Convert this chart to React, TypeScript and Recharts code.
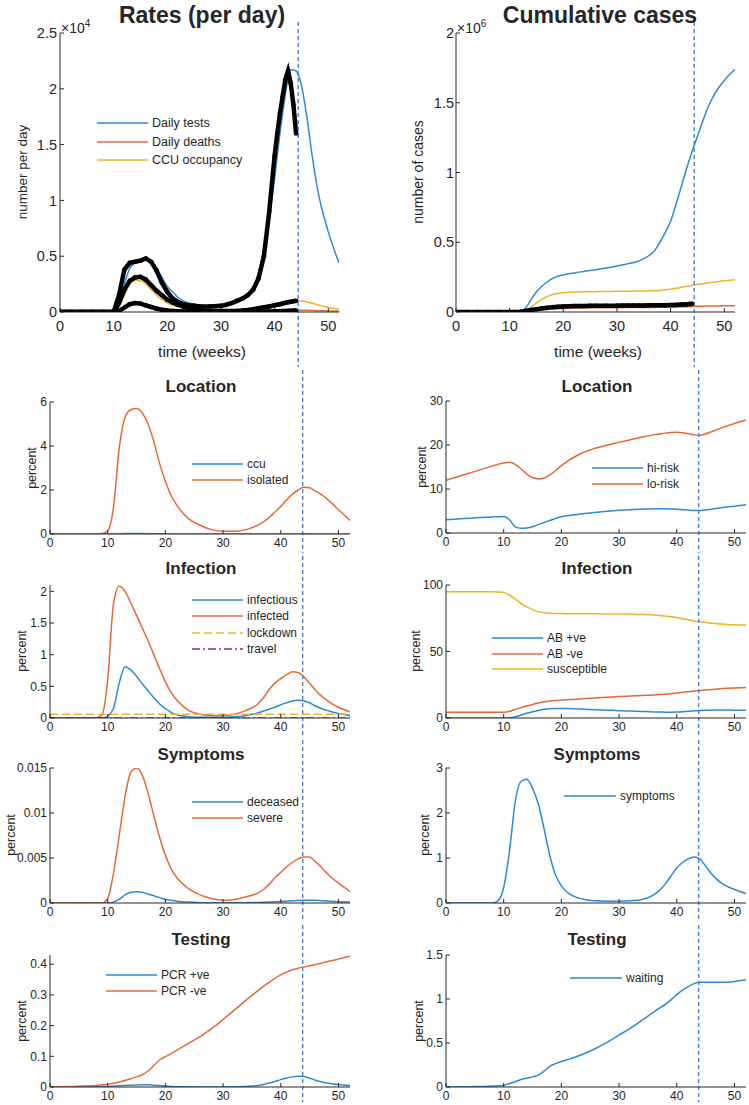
import React from "react";
import { Line, LineChart, ReferenceLine, XAxis, YAxis } from "recharts";

const FONT = '"Liberation Sans", Arial, Helvetica, sans-serif';
const INK = "#262626";
const BLUE = "#2b8ad6";
const RED = "#e3693a";
const YELLOW = "#eeb22a";
const PURPLE = "#7e2f8e";
const MARK = "#4a7fdc";

// model time axis (weeks)
const weeks = [0, 2, 4, 6, 8, 9, 10, 11, 12, 13, 14, 15, 16, 17, 18, 19, 20, 21, 22, 24, 26, 28, 30, 32, 34, 36, 37, 38, 39, 40, 41, 42, 43, 44, 45, 46, 47, 48, 50, 52];

// Rates (per day)
const dailyTests = [0, 0, 0, 0, 0, 0, 100, 800, 2500, 3900, 4400, 4650, 4700, 4500, 3900, 3100, 2300, 1800, 1300, 800, 600, 550, 600, 800, 1200, 2200, 3500, 5500, 8500, 12000, 16000, 19500, 21700, 21600, 20300, 17500, 14000, 11000, 7200, 4400];
const dailyDeaths = [0, 0, 0, 0, 0, 0, 0, 80, 300, 600, 750, 750, 650, 500, 380, 280, 200, 150, 100, 60, 40, 25, 20, 25, 30, 40, 50, 60, 75, 100, 115, 130, 145, 160, 160, 150, 140, 120, 95, 70];
const ccuOccupancy = [0, 0, 0, 0, 0, 0, 50, 500, 1500, 2500, 2850, 2800, 2500, 2000, 1500, 1100, 800, 600, 450, 250, 150, 100, 100, 120, 180, 300, 370, 450, 550, 650, 750, 850, 930, 1000, 980, 900, 780, 650, 400, 250];

// Cumulative cases
const cumTests = [0, 0, 0, 0, 0, 0, 0, 0, 0, 30000, 90000, 145000, 185000, 215000, 240000, 256000, 266000, 274000, 280000, 292000, 303000, 315000, 330000, 345000, 365000, 405000, 440000, 500000, 570000, 650000, 770000, 900000, 1030000, 1150000, 1260000, 1370000, 1470000, 1550000, 1660000, 1740000];
const cumDeaths = [0, 0, 0, 0, 0, 0, 0, 0, 1000, 3000, 6000, 10000, 14000, 18000, 21000, 23000, 25000, 26500, 27500, 29000, 30000, 30500, 31000, 31500, 32000, 32500, 33000, 33500, 34000, 35000, 36000, 37000, 38500, 40000, 41000, 42000, 43000, 43500, 44500, 45000];
const cumCcu = [0, 0, 0, 0, 0, 0, 0, 0, 0, 10000, 35000, 65000, 90000, 110000, 125000, 133000, 138000, 141000, 143000, 145000, 146000, 147000, 148000, 149000, 150000, 152000, 153000, 155000, 159000, 164000, 170000, 177000, 184000, 191000, 197000, 203000, 209000, 214000, 224000, 232000];

// observed data (black dots)
const obsWeeks = [0, 2, 4, 6, 8, 10, 11, 12, 13, 14, 15, 16, 17, 18, 19, 20, 21, 22, 23, 24, 25, 26, 28, 30, 31, 32, 33, 34, 35, 36, 37, 38, 39, 40, 40.5, 41, 41.5, 42, 42.5, 43, 43.5, 44];
const obsTests = [0, 0, 0, 0, 0, 0, 1500, 3800, 4400, 4500, 4600, 4800, 4500, 3700, 2600, 1800, 1200, 900, 700, 600, 550, 500, 500, 550, 650, 800, 1000, 1200, 1500, 2000, 3000, 5000, 9000, 14000, 16000, 17800, 19300, 20800, 21600, 20500, 18600, 16000];
const obsCcu = [0, 0, 0, 0, 0, 0, 800, 2000, 2800, 3100, 3150, 2900, 2400, 1900, 1500, 1100, 850, 650, 500, 350, 250, 150, 100, 80, 80, 80, 100, 130, 180, 250, 330, 420, 500, 600, 650, 700, 760, 820, 870, 920, 960, 1000];
const obsDeaths = [0, 0, 0, 0, 0, 0, 100, 400, 700, 800, 750, 600, 450, 300, 200, 130, 90, 60, 40, 30, 20, 15, 10, 10, 10, 10, 10, 15, 20, 25, 30, 40, 50, 60, 65, 70, 80, 90, 100, 110, 120, 130];
const obsCumulative = [0, 0, 0, 0, 0, 0, 0, 2000, 8000, 14000, 20000, 26000, 31000, 35000, 38000, 40000, 41500, 42500, 43000, 43500, 44000, 44500, 45000, 45500, 46000, 46000, 46500, 47000, 47000, 47500, 48000, 48500, 49000, 50000, 50500, 51000, 52000, 53000, 54000, 55000, 57000, 59000];

// Location
const ccu = [0, 0, 0, 0, 0, 0, 0, 0.005, 0.01, 0.02, 0.025, 0.025, 0.02, 0.015, 0.01, 0.008, 0.005, 0.003, 0.002, 0.001, 0, 0, 0, 0, 0, 0, 0, 0, 0.001, 0.002, 0.003, 0.004, 0.005, 0.006, 0.006, 0.005, 0.004, 0.003, 0.002, 0.001];
const isolated = [0, 0, 0, 0, 0, 0.02, 0.15, 1.2, 3.9, 5.3, 5.65, 5.7, 5.5, 5.0, 4.2, 3.2, 2.4, 1.75, 1.3, 0.7, 0.4, 0.2, 0.12, 0.12, 0.2, 0.4, 0.55, 0.75, 1.0, 1.25, 1.55, 1.8, 2.0, 2.12, 2.1, 1.95, 1.8, 1.6, 1.1, 0.62];
const hiRisk = [3.0, 3.2, 3.35, 3.5, 3.65, 3.7, 3.75, 3.0, 1.4, 1.1, 1.15, 1.4, 1.9, 2.4, 2.85, 3.3, 3.7, 3.9, 4.1, 4.45, 4.7, 4.95, 5.15, 5.3, 5.4, 5.5, 5.5, 5.5, 5.45, 5.4, 5.3, 5.2, 5.1, 5.1, 5.2, 5.4, 5.6, 5.8, 6.1, 6.4];
const loRisk = [12.0, 12.8, 13.6, 14.4, 15.2, 15.6, 15.9, 16.1, 15.6, 14.6, 13.4, 12.6, 12.3, 12.5, 13.2, 14.2, 15.3, 16.3, 17.1, 18.4, 19.3, 20.0, 20.6, 21.2, 21.8, 22.3, 22.5, 22.7, 22.85, 22.9, 22.8, 22.6, 22.3, 22.2, 22.5, 23.0, 23.5, 24.0, 24.9, 25.7];

// Infection
const infectious = [0, 0, 0, 0, 0, 0, 0.03, 0.15, 0.55, 0.81, 0.76, 0.66, 0.54, 0.43, 0.32, 0.22, 0.15, 0.09, 0.05, 0.02, 0.01, 0.01, 0.01, 0.02, 0.04, 0.08, 0.11, 0.14, 0.17, 0.21, 0.24, 0.27, 0.28, 0.27, 0.24, 0.19, 0.15, 0.12, 0.07, 0.04];
const infected = [0, 0, 0, 0, 0, 0.05, 0.6, 1.8, 2.08, 2.0, 1.82, 1.62, 1.42, 1.22, 1.0, 0.78, 0.57, 0.4, 0.28, 0.12, 0.06, 0.04, 0.04, 0.06, 0.12, 0.22, 0.32, 0.45, 0.55, 0.62, 0.68, 0.73, 0.72, 0.65, 0.55, 0.44, 0.35, 0.28, 0.17, 0.1];
const flatWeeks = [0, 52];
const lockdown = [0.06, 0.06];
const travel = [0, 0];
const abPositive = [0, 0, 0, 0, 0, 0, 0, 0.2, 1, 2.2, 3.5, 4.7, 5.7, 6.5, 7, 7.2, 7.2, 7.1, 7, 6.6, 6.2, 5.9, 5.5, 5.2, 4.9, 4.6, 4.5, 4.4, 4.4, 4.5, 4.7, 5.1, 5.4, 5.7, 5.8, 5.9, 6, 6, 5.9, 5.8];
const abNegative = [4.3, 4.3, 4.3, 4.3, 4.3, 4.3, 4.3, 5, 6.5, 7.8, 9, 10.2, 11.3, 12.2, 12.8, 13.2, 13.5, 13.8, 14, 14.6, 15.1, 15.6, 16.1, 16.5, 16.9, 17.3, 17.6, 17.9, 18.3, 18.8, 19.3, 19.8, 20.3, 20.7, 21.1, 21.5, 21.8, 22.1, 22.6, 23];
const susceptible = [95, 95, 95, 95, 95, 94.8, 94.3, 92.5, 89.5, 86.2, 83.5, 81.5, 80, 79.2, 78.8, 78.6, 78.5, 78.4, 78.4, 78.3, 78.3, 78.2, 78.2, 78.1, 77.9, 77.5, 77.1, 76.6, 76.1, 75.5, 74.7, 73.8, 73, 72.3, 71.8, 71.3, 70.9, 70.6, 70.1, 69.9];

// Symptoms
const deceased = [0, 0, 0, 0, 0, 0, 0, 0.0001, 0.0004, 0.0009, 0.0012, 0.00125, 0.0012, 0.001, 0.0008, 0.0006, 0.0004, 0.0003, 0.0002, 0.0001, 0.00004, 0.00002, 0.00002, 0.00003, 0.00004, 0.00006, 0.00008, 0.0001, 0.00013, 0.00016, 0.0002, 0.00024, 0.00028, 0.0003, 0.0003, 0.0003, 0.00026, 0.00022, 0.00015, 0.0001];
const severe = [0, 0, 0, 0, 0, 0, 0.0005, 0.0033, 0.0075, 0.0118, 0.0145, 0.015, 0.0142, 0.0122, 0.0097, 0.0073, 0.0053, 0.0038, 0.0028, 0.0016, 0.0009, 0.0005, 0.0003, 0.0004, 0.0007, 0.0011, 0.0015, 0.0021, 0.0028, 0.0034, 0.004, 0.0045, 0.0049, 0.0051, 0.0051, 0.0046, 0.004, 0.0033, 0.0022, 0.0013];
const symptoms = [0, 0, 0, 0, 0, 0.05, 0.35, 1.15, 2.25, 2.7, 2.75, 2.55, 2.2, 1.65, 1.05, 0.62, 0.38, 0.24, 0.16, 0.08, 0.05, 0.04, 0.04, 0.05, 0.08, 0.18, 0.28, 0.42, 0.6, 0.78, 0.9, 0.98, 1.02, 0.98, 0.82, 0.65, 0.52, 0.42, 0.3, 0.21];

// Testing
const pcrPositive = [0, 0, 0.0005, 0.001, 0.0015, 0.002, 0.002, 0.003, 0.004, 0.005, 0.006, 0.0065, 0.007, 0.007, 0.006, 0.0045, 0.003, 0.002, 0.001, 0.0005, 0.0003, 0.0003, 0.0003, 0.0005, 0.002, 0.005, 0.008, 0.013, 0.018, 0.024, 0.029, 0.033, 0.035, 0.034, 0.029, 0.022, 0.017, 0.013, 0.008, 0.005];
const pcrNegative = [0, 0.001, 0.002, 0.003, 0.005, 0.007, 0.009, 0.012, 0.016, 0.021, 0.027, 0.033, 0.04, 0.052, 0.07, 0.088, 0.099, 0.109, 0.12, 0.142, 0.164, 0.19, 0.22, 0.251, 0.283, 0.313, 0.328, 0.341, 0.354, 0.365, 0.374, 0.382, 0.387, 0.391, 0.395, 0.399, 0.403, 0.408, 0.417, 0.426];
const waiting = [0, 0.002, 0.004, 0.006, 0.01, 0.014, 0.02, 0.04, 0.06, 0.085, 0.1, 0.115, 0.135, 0.18, 0.235, 0.265, 0.29, 0.31, 0.33, 0.38, 0.44, 0.51, 0.59, 0.67, 0.76, 0.85, 0.895, 0.94, 0.99, 1.05, 1.1, 1.14, 1.175, 1.19, 1.19, 1.19, 1.19, 1.19, 1.2, 1.22];

const xTicks = [0, 10, 20, 30, 40, 50];
const markerWeekTop = 44.4;
const markerWeekLower = 43.8;

const rows = weeks.map((w, i) => ({
  w,
  dailyTests: dailyTests[i],
  dailyDeaths: dailyDeaths[i],
  ccuOccupancy: ccuOccupancy[i],
  cumTests: cumTests[i],
  cumDeaths: cumDeaths[i],
  cumCcu: cumCcu[i],
  ccu: ccu[i],
  isolated: isolated[i],
  hiRisk: hiRisk[i],
  loRisk: loRisk[i],
  infectious: infectious[i],
  infected: infected[i],
  abPositive: abPositive[i],
  abNegative: abNegative[i],
  susceptible: susceptible[i],
  deceased: deceased[i],
  severe: severe[i],
  symptoms: symptoms[i],
  pcrPositive: pcrPositive[i],
  pcrNegative: pcrNegative[i],
  waiting: waiting[i],
}));

const obsRows = obsWeeks.map((w, i) => ({
  w,
  obsTests: obsTests[i],
  obsCcu: obsCcu[i],
  obsDeaths: obsDeaths[i],
  obsCumulative: obsCumulative[i],
}));

const flatRows = flatWeeks.map((w, i) => ({ w, lockdown: lockdown[i], travel: travel[i] }));

type LineDef = { key: string; name: string; color: string; dash?: string; data?: any[] };

type PanelProps = {
  left: number;
  top: number;
  width: number;
  height: number;
  margin: { top: number; right: number; bottom: number; left: number };
  yWidth: number;
  xHeight: number;
  fontSize: number;
  xGap: number;
  yGap: number;
  yMax: number;
  yTicks: number[];
  yFormat?: (v: number) => string;
  lines: LineDef[];
  obs?: string[];
  marker: number;
  markerFrom: number;
  legend?: { x: number; y: number; lineLen: number; rowH: number; size: number };
};

function Panel(p: PanelProps) {
  const fmt = p.yFormat ?? ((v: number) => String(v));
  return (
    <div style={{ position: "absolute", left: p.left, top: p.top, width: p.width, height: p.height }}>
      <LineChart width={p.width} height={p.height} data={rows} margin={p.margin}>
        <XAxis
          type="number"
          dataKey="w"
          domain={[0, 52]}
          ticks={xTicks}
          interval={0}
          height={p.xHeight}
          allowDataOverflow
          stroke={INK}
          tickSize={-4}
          tickMargin={p.xGap + 4}
          tick={{ fontSize: p.fontSize, fill: INK, fontFamily: FONT }}
        />
        <YAxis
          type="number"
          domain={[0, p.yMax]}
          ticks={p.yTicks}
          interval={0}
          width={p.yWidth}
          allowDataOverflow
          stroke={INK}
          tickSize={-4}
          tickMargin={p.yGap + 4}
          tickFormatter={fmt}
          tick={{ fontSize: p.fontSize, fill: INK, fontFamily: FONT }}
        />
        {p.lines.map((l) => (
          <Line
            key={l.key}
            data={l.data}
            dataKey={l.key}
            name={l.name}
            type="monotone"
            stroke={l.color}
            strokeWidth={1.5}
            strokeDasharray={l.dash}
            dot={false}
            isAnimationActive={false}
          />
        ))}
        {(p.obs ?? []).map((k) => (
          <Line
            key={k}
            data={obsRows}
            dataKey={k}
            type="linear"
            stroke="#000"
            strokeWidth={4.5}
            dot={{ r: 2.3, fill: "#000", stroke: "none" }}
            legendType="none"
            isAnimationActive={false}
          />
        ))}
        <ReferenceLine
          x={p.marker}
          shape={(s: any) => (
            <line x1={s.x1} x2={s.x1} y1={p.markerFrom} y2={p.height - 3} stroke={MARK} strokeWidth={1.4} strokeDasharray="4 3" />
          )}
        />
      </LineChart>
      {p.legend && (
        <div
          style={{
            position: "absolute",
            left: p.legend.x - p.left,
            top: p.legend.y - p.top - p.legend.rowH / 2,
            fontSize: p.legend.size,
            color: INK,
            fontFamily: FONT,
          }}
        >
          {p.lines.map((l) => (
            <div key={l.key} style={{ display: "flex", alignItems: "center", height: p.legend!.rowH, whiteSpace: "nowrap" }}>
              <svg width={p.legend!.lineLen} height={4} style={{ marginRight: 4 }}>
                <line x1={0} x2={p.legend!.lineLen} y1={2} y2={2} stroke={l.color} strokeWidth={1.5} strokeDasharray={l.dash} />
              </svg>
              <span>{l.name}</span>
            </div>
          ))}
        </div>
      )}
    </div>
  );
}

function Caption(props: { x: number; y: number; size: number; bold?: boolean; rotate?: boolean; children: React.ReactNode }) {
  return (
    <div
      style={{
        position: "absolute",
        left: props.x,
        top: props.y,
        transform: `translate(-50%, -50%)${props.rotate ? " rotate(-90deg)" : ""}`,
        fontSize: props.size,
        lineHeight: `${props.size}px`,
        fontWeight: props.bold ? 700 : 400,
        whiteSpace: "nowrap",
      }}
    >
      {props.children}
    </div>
  );
}

const leftLower = { left: 0, width: 375, yWidth: 50, xHeight: 20, fontSize: 12, xGap: 4, yGap: 3 };
const rightLower = { left: 375, width: 374, yWidth: 71, xHeight: 20, fontSize: 12, xGap: 4, yGap: 3 };

export default function App() {
  return (
    <div
      style={{
        position: "absolute",
        left: 0,
        top: 0,
        width: 749,
        height: 1105,
        background: "#fff",
        fontFamily: FONT,
        color: INK,
        overflow: "hidden",
      }}
    >
      {/* Rates (per day) */}
      <Panel
        left={0}
        top={0}
        width={375}
        height={370}
        margin={{ top: 33, right: 36, bottom: 33, left: 0 }}
        yWidth={60}
        xHeight={25}
        fontSize={14.5}
        xGap={9}
        yGap={3}
        yMax={25000}
        yTicks={[0, 5000, 10000, 15000, 20000, 25000]}
        yFormat={(v) => String(v / 1e4)}
        lines={[
          { key: "dailyTests", name: "Daily tests", color: BLUE },
          { key: "dailyDeaths", name: "Daily deaths", color: RED },
          { key: "ccuOccupancy", name: "CCU occupancy", color: YELLOW },
        ]}
        obs={["obsTests", "obsCcu", "obsDeaths"]}
        marker={markerWeekTop}
        markerFrom={22}
        legend={{ x: 97, y: 123.5, lineLen: 51, rowH: 18.3, size: 12.5 }}
      />
      {/* Cumulative cases */}
      <Panel
        left={375}
        top={0}
        width={374}
        height={370}
        margin={{ top: 33, right: 14, bottom: 33, left: 0 }}
        yWidth={81}
        xHeight={25}
        fontSize={14.5}
        xGap={9}
        yGap={2}
        yMax={2000000}
        yTicks={[0, 500000, 1000000, 1500000, 2000000]}
        yFormat={(v) => String(v / 1e6)}
        lines={[
          { key: "cumTests", name: "Tests", color: BLUE },
          { key: "cumDeaths", name: "Deaths", color: RED },
          { key: "cumCcu", name: "CCU", color: YELLOW },
        ]}
        obs={["obsCumulative"]}
        marker={markerWeekTop}
        markerFrom={22}
      />

      {/* Location */}
      <Panel
        {...leftLower}
        top={370}
        height={186}
        margin={{ top: 32, right: 25, bottom: 2, left: 0 }}
        yMax={6}
        yTicks={[0, 2, 4, 6]}
        lines={[
          { key: "ccu", name: "ccu", color: BLUE },
          { key: "isolated", name: "isolated", color: RED },
        ]}
        marker={markerWeekLower}
        markerFrom={0}
        legend={{ x: 192, y: 464, lineLen: 51, rowH: 16, size: 12 }}
      />
      <Panel
        {...rightLower}
        top={370}
        height={186}
        margin={{ top: 31, right: 3, bottom: 3, left: 0 }}
        yMax={30}
        yTicks={[0, 10, 20, 30]}
        lines={[
          { key: "hiRisk", name: "hi-risk", color: BLUE },
          { key: "loRisk", name: "lo-risk", color: RED },
        ]}
        marker={markerWeekLower}
        markerFrom={0}
        legend={{ x: 592, y: 468, lineLen: 51, rowH: 15.5, size: 12 }}
      />

      {/* Infection */}
      <Panel
        {...leftLower}
        top={556}
        height={184}
        margin={{ top: 29, right: 25, bottom: 2, left: 0 }}
        yMax={2.1}
        yTicks={[0, 0.5, 1, 1.5, 2]}
        lines={[
          { key: "infectious", name: "infectious", color: BLUE },
          { key: "infected", name: "infected", color: RED },
          { key: "lockdown", name: "lockdown", color: YELLOW, dash: "8 4", data: flatRows },
          { key: "travel", name: "travel", color: PURPLE, dash: "8 3 2 3", data: flatRows },
        ]}
        marker={markerWeekLower}
        markerFrom={0}
        legend={{ x: 192, y: 600, lineLen: 51, rowH: 16.3, size: 12 }}
      />
      <Panel
        {...rightLower}
        top={556}
        height={184}
        margin={{ top: 29, right: 3, bottom: 2, left: 0 }}
        yMax={100}
        yTicks={[0, 50, 100]}
        lines={[
          { key: "abPositive", name: "AB +ve", color: BLUE },
          { key: "abNegative", name: "AB -ve", color: RED },
          { key: "susceptible", name: "susceptible", color: YELLOW },
        ]}
        marker={markerWeekLower}
        markerFrom={0}
        legend={{ x: 492, y: 638, lineLen: 51, rowH: 15.5, size: 12 }}
      />

      {/* Symptoms */}
      <Panel
        {...leftLower}
        top={740}
        height={185}
        margin={{ top: 28, right: 25, bottom: 2, left: 0 }}
        yMax={0.015}
        yTicks={[0, 0.005, 0.01, 0.015]}
        lines={[
          { key: "deceased", name: "deceased", color: BLUE },
          { key: "severe", name: "severe", color: RED },
        ]}
        marker={markerWeekLower}
        markerFrom={0}
        legend={{ x: 192, y: 802, lineLen: 51, rowH: 16, size: 12 }}
      />
      <Panel
        {...rightLower}
        top={740}
        height={185}
        margin={{ top: 28, right: 3, bottom: 2, left: 0 }}
        yMax={3}
        yTicks={[0, 1, 2, 3]}
        lines={[{ key: "symptoms", name: "symptoms", color: BLUE }]}
        marker={markerWeekLower}
        markerFrom={0}
        legend={{ x: 564, y: 796, lineLen: 52, rowH: 16, size: 12 }}
      />

      {/* Testing */}
      <Panel
        {...leftLower}
        top={925}
        height={180}
        xHeight={16}
        margin={{ top: 30, right: 25, bottom: 2, left: 0 }}
        yMax={0.43}
        yTicks={[0, 0.1, 0.2, 0.3, 0.4]}
        lines={[
          { key: "pcrPositive", name: "PCR +ve", color: BLUE },
          { key: "pcrNegative", name: "PCR -ve", color: RED },
        ]}
        marker={markerWeekLower}
        markerFrom={0}
        legend={{ x: 106, y: 975, lineLen: 51, rowH: 16, size: 12 }}
      />
      <Panel
        {...rightLower}
        top={925}
        height={180}
        xHeight={16}
        margin={{ top: 30, right: 3, bottom: 2, left: 0 }}
        yMax={1.5}
        yTicks={[0, 0.5, 1, 1.5]}
        lines={[{ key: "waiting", name: "waiting", color: BLUE }]}
        marker={markerWeekLower}
        markerFrom={0}
        legend={{ x: 570, y: 978, lineLen: 52, rowH: 16, size: 12 }}
      />

      {/* titles and axis labels */}
      <Caption x={202} y={15} size={23} bold>Rates (per day)</Caption>
      <Caption x={600} y={15} size={23} bold>Cumulative cases</Caption>
      <Caption x={201} y={386} size={17} bold>Location</Caption>
      <Caption x={597} y={386} size={17} bold>Location</Caption>
      <Caption x={201} y={568} size={17} bold>Infection</Caption>
      <Caption x={597} y={568} size={17} bold>Infection</Caption>
      <Caption x={201} y={754} size={17} bold>Symptoms</Caption>
      <Caption x={597} y={754} size={17} bold>Symptoms</Caption>
      <Caption x={201} y={939} size={17} bold>Testing</Caption>
      <Caption x={597} y={939} size={17} bold>Testing</Caption>

      <Caption x={202} y={352} size={15.5}>time (weeks)</Caption>
      <Caption x={598} y={352} size={15.5}>time (weeks)</Caption>

      <Caption x={23} y={172} size={13.5} rotate>number per day</Caption>
      <Caption x={418} y={172} size={14} rotate>number of cases</Caption>
      <Caption x={32} y={468} size={12.5} rotate>percent</Caption>
      <Caption x={422} y={467} size={12.5} rotate>percent</Caption>
      <Caption x={22} y={651} size={12.5} rotate>percent</Caption>
      <Caption x={416} y={651} size={12.5} rotate>percent</Caption>
      <Caption x={11} y={835} size={12.5} rotate>percent</Caption>
      <Caption x={425} y={835} size={12.5} rotate>percent</Caption>
      <Caption x={22} y={1021} size={12.5} rotate>percent</Caption>
      <Caption x={419} y={1021} size={12.5} rotate>percent</Caption>

      <div style={{ position: "absolute", left: 61, top: 17, fontSize: 14, lineHeight: "14px" }}>
        ×10<sup style={{ fontSize: 10, verticalAlign: "6px" }}>4</sup>
      </div>
      <div style={{ position: "absolute", left: 457, top: 17, fontSize: 14, lineHeight: "14px" }}>
        ×10<sup style={{ fontSize: 10, verticalAlign: "6px" }}>6</sup>
      </div>
    </div>
  );
}
